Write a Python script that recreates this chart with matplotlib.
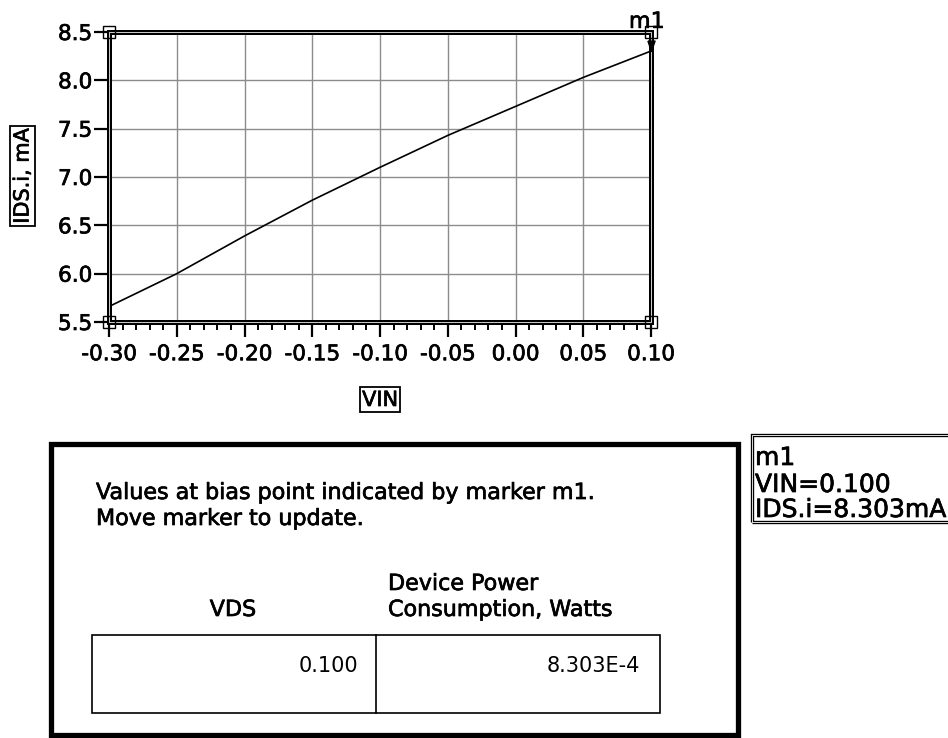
import numpy as np
import matplotlib
matplotlib.use('Agg')
import matplotlib.pyplot as plt
import matplotlib.patheffects as pe
from matplotlib.patches import Rectangle
from matplotlib.lines import Line2D
from matplotlib.ticker import AutoMinorLocator

# Swept gate voltage and drain current
vin = [-0.30, -0.25, -0.20, -0.15, -0.10, -0.05, 0.00, 0.05, 0.10]
ids_mA = [5.66, 6.00, 6.39, 6.76, 7.10, 7.43, 7.73, 8.03, 8.303]

x_ticks = [-0.30, -0.25, -0.20, -0.15, -0.10, -0.05, 0.00, 0.05, 0.10]
y_ticks = [5.5, 6.0, 6.5, 7.0, 7.5, 8.0, 8.5]

marker_name = 'm1'
vds = 0.100
power_W = vds * ids_mA[-1] / 1000

W, H = 948, 738
plt.rcParams['font.family'] = ['DejaVu Sans']

# slightly heavier glyphs, like the schematic printout
heavy = [pe.withStroke(linewidth=0.5, foreground='black')]

fig = plt.figure(figsize=(W / 100, H / 100), dpi=100)


def fx(x):
    return x / W


def fy(y):
    return 1 - y / H


# main plot area
ax = fig.add_axes([fx(109), fy(322), fx(651) - fx(109), fy(32) - fy(322)])
ax.set_xlim(x_ticks[0], x_ticks[-1])
ax.set_ylim(y_ticks[0], y_ticks[-1])
ax.set_xticks(x_ticks)
ax.set_yticks(y_ticks)
ax.set_xticklabels([f'{v:.2f}' for v in x_ticks])
ax.set_yticklabels([f'{v:.1f}' for v in y_ticks])
ax.xaxis.set_minor_locator(AutoMinorLocator(5))
ax.grid(True, which='major', color='#8c8c8c', lw=1.0)
ax.tick_params(axis='x', which='major', length=11, width=1.6, pad=5, labelsize=15.5)
ax.tick_params(axis='x', which='minor', length=6, width=1.4)
ax.tick_params(axis='y', which='major', length=11, width=1.6, pad=1, labelsize=15.5)
for lab in ax.get_xticklabels() + ax.get_yticklabels():
    lab.set_path_effects(heavy)

ax.plot(vin, ids_mA, color='black', lw=1.2, zorder=3)

# double line frame
for s in ax.spines.values():
    s.set_linewidth(3.6)
    s.set_zorder(4)
ax.add_patch(Rectangle((0, 0), 1, 1, transform=ax.transAxes, fill=False,
                       ec='#d0d0d0', lw=0.7, clip_on=False, zorder=5))

# corner squares
x0, x1 = ax.get_xlim()
y0, y1 = ax.get_ylim()
ax.plot([x0, x0, x1, x1], [y0, y1, y0, y1], ls='none', marker='s', ms=8,
        mfc='none', mec='black', mew=1.0, clip_on=False, zorder=6)

# marker m1 (tip of the triangle sits on the data point)
tri = [(-0.55, 1.6), (0.55, 1.6), (0, 0), (-0.55, 1.6)]
ax.plot(vin[-1], ids_mA[-1], marker=tri, ms=15, color='black',
        clip_on=False, zorder=7)
ax.annotate(marker_name, (vin[-1], ids_mA[-1]), xytext=(-3, 21),
            textcoords='offset points', ha='center', va='center',
            fontsize=16, annotation_clip=False, path_effects=heavy)

# boxed axis labels
box = dict(boxstyle='square,pad=0.12', fc='white', ec='black', lw=1.3)
fig.text(fx(22.5), fy(176), 'IDS.i, mA', rotation=90, ha='center', va='center',
         fontsize=15, bbox=box, path_effects=heavy)
fig.text(fx(380), fy(400), 'VIN', ha='center', va='center', fontsize=15, bbox=box,
         path_effects=heavy)

# bias point summary panel
fig.add_artist(Rectangle((fx(51), fy(735)), fx(738) - fx(51), fy(444) - fy(735),
                         transform=fig.transFigure, fill=False, ec='black', lw=3.8))
panel_text = [
    (96, 499, f'Values at bias point indicated by marker {marker_name}.', 'left'),
    (96, 525, 'Move marker to update.', 'left'),
    (233, 616, 'VDS', 'center'),
    (388, 590, 'Device Power', 'left'),
    (388, 616, 'Consumption, Watts', 'left'),
]
for x, y, s, ha in panel_text:
    fig.text(fx(x), fy(y), s, ha=ha, va='baseline', fontsize=16, path_effects=heavy)

fig.add_artist(Rectangle((fx(92), fy(713)), fx(660) - fx(92), fy(635) - fy(713),
                         transform=fig.transFigure, fill=False, ec='black', lw=1.2))
fig.add_artist(Line2D([fx(376), fx(376)], [fy(635), fy(713)],
                      transform=fig.transFigure, color='black', lw=1.2))
fig.text(fx(358), fy(672), f'{vds:.3f}', ha='right', va='baseline', fontsize=15)
fig.text(fx(640), fy(672), f'{power_W:.3E}'.replace('E-04', 'E-4'),
         ha='right', va='baseline', fontsize=15)

# marker readout
fig.add_artist(Rectangle((fx(752), fy(522)), fx(975) - fx(752), fy(435) - fy(522),
                         transform=fig.transFigure, fill=False, ec='black', lw=2.4))
fig.add_artist(Rectangle((fx(752), fy(522)), fx(975) - fx(752), fy(435) - fy(522),
                         transform=fig.transFigure, fill=False, ec='white', lw=0.6))
readout = [marker_name, f'VIN={vin[-1]:.3f}', f'IDS.i={ids_mA[-1]:.3f}mA']
for line, yb in zip(readout, [465, 492, 517]):
    fig.text(fx(755), fy(yb), line, ha='left', va='baseline', fontsize=18,
             path_effects=heavy)

fig.savefig('out.png', dpi=100, facecolor='white')
